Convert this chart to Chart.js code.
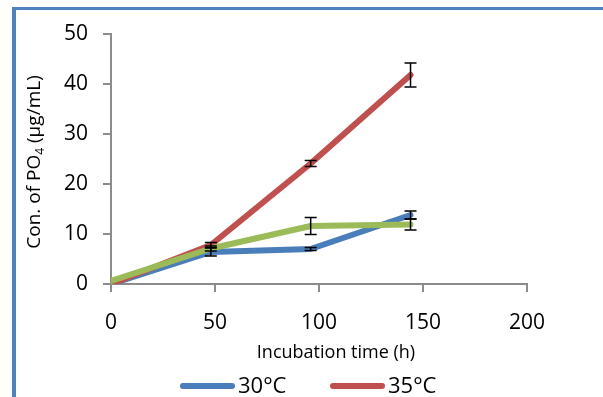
<!DOCTYPE html>
<html>
<head>
<meta charset="utf-8">
<script src="https://cdn.jsdelivr.net/npm/chart.js@4.4.1/dist/chart.umd.min.js"></script>
<style>
  html, body { margin: 0; padding: 0; background: #fff; }
  #wrap { position: relative; width: 603px; height: 397px; overflow: hidden; }
  #frame {
    position: absolute; left: 12px; top: 7px; width: 700px; height: 500px;
    border-left: 4px solid #4f81bd; border-top: 3px solid #4f81bd;
  }
  #chart { position: absolute; left: 0; top: 0; }
</style>
</head>
<body>
<div id="wrap">
  <div id="frame"></div>
  <canvas id="chart" width="603" height="397"></canvas>
</div>
<script>
// Data
const hours = [0, 48, 96, 144];
const labels = ['30°C', '35°C', '40°C'];
const conc30 = [0, 6.4, 7.0, 13.8];
const err30 = [0, 0.8, 0.3, 0.8];
const conc35 = [0, 7.8, 24.1, 41.8];
const err35 = [0, 0.5, 0.6, 2.4];
const conc40 = [0.6, 7.1, 11.6, 11.9];
const err40 = [0, 0.5, 1.7, 1.1];

const xTicks = [0, 50, 100, 150, 200];
const yTicks = [0, 10, 20, 30, 40, 50];

const colors = ['#4a7ebb', '#c0504d', '#9bbb59'];
const font = "'Open Sans', sans-serif";

function points(vals) {
  return hours.map((h, i) => ({ x: h, y: vals[i] }));
}

// error bars, legend and axis titles drawn on top
const extras = {
  id: 'extras',
  afterDatasetsDraw(chart) {
    const ctx = chart.ctx;
    const xs = chart.scales.x, ys = chart.scales.y;
    ctx.save();
    ctx.strokeStyle = '#000';
    ctx.lineWidth = 1.5;
    chart.data.datasets.forEach(ds => {
      ds.errors.forEach((e, i) => {
        if (!e) return;
        const x = xs.getPixelForValue(hours[i]);
        const top = ys.getPixelForValue(ds.data[i].y + e);
        const bot = ys.getPixelForValue(ds.data[i].y - e);
        ctx.beginPath();
        ctx.moveTo(x, top); ctx.lineTo(x, bot);
        ctx.moveTo(x - 6, top); ctx.lineTo(x + 6, top);
        ctx.moveTo(x - 6, bot); ctx.lineTo(x + 6, bot);
        ctx.stroke();
      });
    });
    ctx.restore();
  },
  afterDraw(chart) {
    const ctx = chart.ctx;
    ctx.save();
    ctx.fillStyle = '#000';

    // x axis title
    ctx.font = '18px ' + font;
    ctx.textAlign = 'center';
    ctx.textBaseline = 'middle';
    ctx.fillText('Incubation time (h)', 336, 353);

    // y axis title with subscript
    ctx.translate(33, 162);
    ctx.rotate(-Math.PI / 2);
    const a = 'Con. of PO', s = '4', b = ' (µg/mL)';
    ctx.font = '19px ' + font;
    const wa = ctx.measureText(a).width, wb = ctx.measureText(b).width;
    ctx.font = '12px ' + font;
    const ws = ctx.measureText(s).width;
    let x = -(wa + ws + wb) / 2;
    ctx.textAlign = 'left';
    ctx.textBaseline = 'alphabetic';
    ctx.font = '19px ' + font;
    ctx.fillText(a, x, 7);
    x += wa;
    ctx.font = '12px ' + font;
    ctx.fillText(s, x, 11);
    x += ws;
    ctx.font = '19px ' + font;
    ctx.fillText(b, x, 7);
    ctx.restore();

    // legend (first two entries, the rest is cut off in the original)
    ctx.save();
    const legendX = [180, 330];
    chart.data.datasets.slice(0, 2).forEach((ds, i) => {
      const lx = legendX[i];
      ctx.strokeStyle = ds.borderColor;
      ctx.lineWidth = 6;
      ctx.lineCap = 'round';
      ctx.beginPath();
      ctx.moveTo(lx + 3, 386); ctx.lineTo(lx + 52, 386);
      ctx.stroke();
      ctx.fillStyle = '#000';
      ctx.font = '22px ' + font;
      ctx.textAlign = 'left';
      ctx.textBaseline = 'middle';
      ctx.fillText(ds.label, lx + 58, 387);
    });
    ctx.restore();
  }
};

const series = [conc30, conc35, conc40];
const errs = [err30, err35, err40];
const order = [2, 1, 0];

new Chart(document.getElementById('chart'), {
  type: 'line',
  data: {
    datasets: series.map((vals, i) => ({
      label: labels[i],
      data: points(vals),
      errors: errs[i],
      borderColor: colors[i],
      backgroundColor: colors[i],
      borderWidth: 6,
      borderCapStyle: 'round',
      borderJoinStyle: 'round',
      pointRadius: 0,
      tension: 0,
      order: order[i]
    }))
  },
  options: {
    responsive: false,
    animation: false,
    layout: { padding: { left: 0, top: 34, right: 76, bottom: 0 } },
    plugins: { legend: { display: false }, tooltip: { enabled: false } },
    scales: {
      x: {
        type: 'linear',
        min: 0, max: 200,
        afterBuildTicks: s => { s.ticks = xTicks.map(v => ({ value: v })); },
        afterFit: s => { s.height = 113; },
        border: { color: '#8c8c8c', width: 2 },
        grid: { drawOnChartArea: false, color: '#8c8c8c', lineWidth: 2, tickLength: 8 },
        ticks: { color: '#000', font: { family: font, size: 21 }, padding: 18, maxRotation: 0 }
      },
      y: {
        type: 'linear',
        min: 0, max: 50,
        afterBuildTicks: s => { s.ticks = yTicks.map(v => ({ value: v })); },
        afterFit: s => { s.width = 111; },
        border: { color: '#8c8c8c', width: 2 },
        grid: { drawOnChartArea: false, color: '#8c8c8c', lineWidth: 2, tickLength: 8 },
        ticks: { color: '#000', font: { family: font, size: 21 }, padding: 15 }
      }
    }
  },
  plugins: [extras]
});
</script>
</body>
</html>
